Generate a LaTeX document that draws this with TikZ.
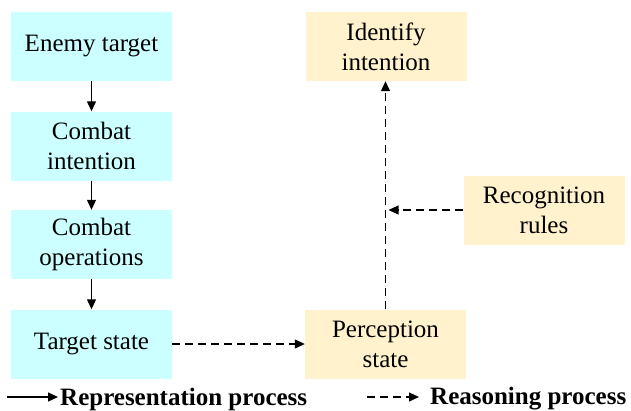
\documentclass[tikz,border=0pt]{standalone}
\usepackage{fontspec}
\setmainfont{Liberation Serif}
\usetikzlibrary{arrows.meta}
\definecolor{cyanbox}{RGB}{204,255,255}
\definecolor{yelbox}{RGB}{255,242,204}
\begin{document}
\begin{tikzpicture}[x=1pt,y=-1pt,
  box/.style={rectangle,minimum width=161pt,minimum height=69pt,inner sep=0pt,align=center,
    font=\fontsize{25}{30}\selectfont},
  cbox/.style={box,fill=cyanbox},
  ybox/.style={box,fill=yelbox},
  conn/.style={line width=1.2pt,-{Triangle[length=10pt,width=9pt]}},
  dconn/.style={conn,dash pattern=on 8pt off 5pt},
  legtext/.style={anchor=west,inner sep=0pt,font=\fontsize{25}{30}\selectfont\bfseries}]
\useasboundingbox (0,0) rectangle (631,410);
\node[cbox] (e1) at (91.5,46.5) {Enemy target};
\node[cbox] (e2) at (91.5,146) {Combat\\intention};
\node[cbox] (e3) at (91.5,244.5) {Combat\\operations};
\node[cbox] (e4) at (91.5,344) {Target state};
\node[ybox] (id) at (386,46.5) {Identify\\intention};
\node[ybox] (rr) at (544,210) {Recognition\\rules};
\node[ybox] (ps) at (385.5,344) {Perception\\state};
\draw[conn] (e1) -- (e2);
\draw[conn] (e2) -- (e3);
\draw[conn] (e3) -- (e4);
\draw[dconn] (e4.east) -- (ps.west);
\draw[dconn] (ps.north) -- (ps.north |- id.south);
\coordinate (rrend) at ([xshift=3pt]ps.north |- rr.west);
\draw[dconn] (rr.west) -- (rrend);
\coordinate (l1a) at (7,397);
\coordinate (l1b) at (58,397);
\coordinate (l2a) at (367,397);
\coordinate (l2b) at (419,397);
\draw[conn] (l1a) -- (l1b);
\draw[dconn] (l2a) -- (l2b);
\node[legtext] (t1) at (60,399) {Representation process};
\node[legtext] (t2) at (430,399) {Reasoning process};
\end{tikzpicture}
\end{document}
